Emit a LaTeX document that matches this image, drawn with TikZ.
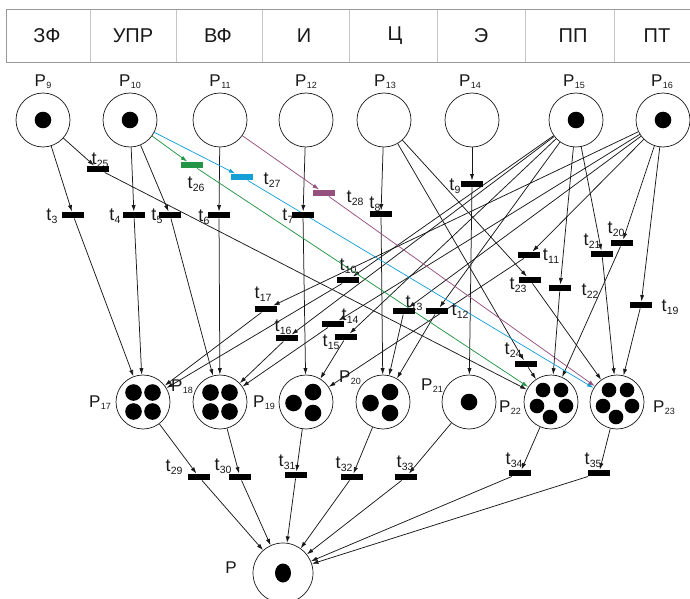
\documentclass[tikz,border=0pt]{standalone}
\usepackage{fontspec}
\setmainfont{Liberation Sans}
\usetikzlibrary{arrows.meta,calc}
\pgfdeclarelayer{bg}
\pgfsetlayers{bg,main}

\definecolor{cgreen}{RGB}{34,150,70}
\definecolor{cblue}{RGB}{20,160,215}
\definecolor{cmag}{RGB}{150,80,125}
\definecolor{ink}{RGB}{25,25,25}

% place and transition names with lowered indices
\newcommand\pname[1]{P\kern0.6pt\raisebox{-1.8pt}{\fontsize{9}{9}\selectfont #1}}
\newcommand\tname[1]{t\kern0.3pt\raisebox{-2.8pt}{\fontsize{10.5}{10.5}\selectfont #1}}

\begin{document}
\begin{tikzpicture}[x=1pt,y=-1pt,
  place/.style={circle, draw=ink, line width=0.7pt, minimum size=54pt, inner sep=0pt, fill=white},
  trans/.style={rectangle, fill=black, minimum width=22pt, minimum height=6.5pt, inner sep=0pt},
  tip/.style={-{Latex[length=6.5pt,width=4.2pt]}},
  arc/.style={draw=ink, line width=0.75pt, tip},
  plabel/.style={font=\fontsize{17}{17}\selectfont, text=ink, inner sep=0pt},
  tlabel/.style={font=\fontsize{18}{18}\selectfont, text=ink, inner sep=0pt},
  head/.style={font=\fontsize{20}{20}\selectfont, text=ink, inner sep=0pt},
  tok/.style={fill=black}
]
\useasboundingbox (0,0) rectangle (690,599);

% ---------- header row ----------
\draw[gray!45, line width=0.8pt] (90,9) -- (90,62) (176,9) -- (176,62) (262,9) -- (262,62)
  (349,9) -- (349,62) (437,9) -- (437,62) (525,9) -- (525,62) (614,9) -- (614,62);
\draw[gray!80, line width=0.9pt] (695,9) -- (6,9) -- (6,62) -- (695,62);
\node[head] (h1) at (47,36) {ЗФ};
\node[head] (h2) at (133,36) {УПР};
\node[head] (h3) at (218,36) {ВФ};
\node[head] (h4) at (304,36) {И};
\node[head] (h5) at (395,36) {Ц};
\node[head] (h6) at (481,36) {Э};
\node[head] (h7) at (573,36) {ПП};
\node[head] (h8) at (657,36) {ПТ};

% ---------- places ----------
\node[place] (P9)  at (43,120) {};
\node[place] (P10) at (130,120) {};
\node[place] (P11) at (220,120) {};
\node[place] (P12) at (306,120) {};
\node[place] (P13) at (384,120) {};
\node[place] (P14) at (472,120) {};
\node[place] (P15) at (576,120) {};
\node[place] (P16) at (663,120) {};

\node[place] (P17) at (143,402) {};
\node[place] (P18) at (220,402) {};
\node[place] (P19) at (306,402) {};
\node[place] (P20) at (383,402) {};
\node[place] (P21) at (469,402) {};
\node[place] (P22) at (551,402) {};
\node[place] (P23) at (617,402) {};

\node[place, minimum size=60pt] (P) at (283,573) {};

% ---------- place names ----------
\node[plabel] (lP9)  at (43,82)  {\pname{9}};
\node[plabel] (lP10) at (130,82) {\pname{10}};
\node[plabel] (lP11) at (220,82) {\pname{11}};
\node[plabel] (lP12) at (306,82) {\pname{12}};
\node[plabel] (lP13) at (385,82) {\pname{13}};
\node[plabel] (lP14) at (470,82) {\pname{14}};
\node[plabel] (lP15) at (574,82) {\pname{15}};
\node[plabel] (lP16) at (662,82) {\pname{16}};
\node[plabel] (lP17) at (100,403) {\pname{17}};
\node[plabel] (lP18) at (182,387) {\pname{18}};
\node[plabel] (lP19) at (264,403) {\pname{19}};
\node[plabel] (lP20) at (350,378) {\pname{20}};
\node[plabel] (lP21) at (432,386) {\pname{21}};
\node[plabel] (lP22) at (510,408) {\pname{22}};
\node[plabel] (lP23) at (664,408) {\pname{23}};
\node[plabel] (lP)   at (231,568) {P};

% ---------- tokens ----------
\fill[tok] (P9) circle (8.3pt);
\fill[tok] (P10) circle (8.3pt);
\fill[tok] (P15) circle (8.3pt);
\fill[tok] (P16) circle (8.3pt);
\foreach \pl in {P17,P18}
  \foreach \dx/\dy in {-9.5/-9.5, 9.5/-9.5, -9.5/9.5, 9.5/9.5}
    \fill[tok] ($(\pl)+(\dx,\dy)$) circle (8.3pt);
\foreach \pl in {P19,P20}
  \foreach \dx/\dy in {7/-10, -12.5/1, 7/11}
    \fill[tok] ($(\pl)+(\dx,\dy)$) circle (8.3pt);
\fill[tok] (P21) circle (8.3pt);
\foreach \pl in {P22,P23}
  \foreach \dx/\dy in {-8/-12, 10/-12, -14/4, 15/4, -1/15}
    \fill[tok] ($(\pl)+(\dx,\dy)$) circle (7.3pt);
\fill[tok] (P) ellipse (8pt and 9.5pt);

% ---------- transitions ----------
\node[trans] (t3)  at (73,215) {};
\node[trans] (t4)  at (134,215) {};
\node[trans] (t5)  at (170,215) {};
\node[trans] (t6)  at (219,215) {};
\node[trans] (t7)  at (303,215) {};
\node[trans] (t8)  at (381,214) {};
\node[trans] (t9)  at (472,184) {};
\node[trans] (t25) at (98,169) {};
\node[trans, fill=cgreen] (t26) at (192,165) {};
\node[trans, fill=cblue]  (t27) at (242,177) {};
\node[trans, fill=cmag]   (t28) at (324,193) {};
\node[trans] (t10) at (348,280) {};
\node[trans] (t11) at (529,255) {};
\node[trans] (t12) at (437,311) {};
\node[trans] (t13) at (404,311) {};
\node[trans] (t14) at (333,324) {};
\node[trans] (t15) at (346,337) {};
\node[trans] (t16) at (287,338) {};
\node[trans] (t17) at (266,309) {};
\node[trans] (t19) at (641,305) {};
\node[trans] (t20) at (622,243) {};
\node[trans] (t21) at (602,254) {};
\node[trans] (t22) at (560,288) {};
\node[trans] (t23) at (530,280) {};
\node[trans] (t24) at (526,364) {};
\node[trans] (t29) at (199,477) {};
\node[trans] (t30) at (240,477) {};
\node[trans] (t31) at (296,475) {};
\node[trans] (t32) at (352,477) {};
\node[trans] (t33) at (406,477) {};
\node[trans] (t34) at (520,473) {};
\node[trans] (t35) at (599,473) {};

% ---------- transition names ----------
\node[tlabel] (lt3)  at (52,216)  {\tname{3}};
\node[tlabel] (lt4)  at (115,216) {\tname{4}};
\node[tlabel] (lt5)  at (157,216) {\tname{5}};
\node[tlabel] (lt6)  at (204,217) {\tname{6}};
\node[tlabel] (lt7)  at (288,216) {\tname{7}};
\node[tlabel] (lt8)  at (375,204) {\tname{8}};
\node[tlabel] (lt9)  at (455,186) {\tname{9}};
\node[tlabel] (lt25) at (100,160) {\tname{25}};
\node[tlabel] (lt26) at (196,184) {\tname{26}};
\node[tlabel] (lt27) at (272,180) {\tname{27}};
\node[tlabel] (lt28) at (355,198) {\tname{28}};
\node[tlabel] (lt10) at (348,266) {\tname{10}};
\node[tlabel] (lt11) at (551,256) {\tname{11}};
\node[tlabel] (lt12) at (460,311) {\tname{12}};
\node[tlabel] (lt13) at (414,303) {\tname{13}};
\node[tlabel] (lt14) at (350,316) {\tname{14}};
\node[tlabel] (lt15) at (331,342) {\tname{15}};
\node[tlabel] (lt16) at (283,327) {\tname{16}};
\node[tlabel] (lt17) at (263,294) {\tname{17}};
\node[tlabel] (lt19) at (670,307) {\tname{19}};
\node[tlabel] (lt20) at (616,229) {\tname{20}};
\node[tlabel] (lt21) at (592,241) {\tname{21}};
\node[tlabel] (lt22) at (590,291) {\tname{22}};
\node[tlabel] (lt23) at (518,285) {\tname{23}};
\node[tlabel] (lt24) at (513,350) {\tname{24}};
\node[tlabel] (lt29) at (174,467) {\tname{29}};
\node[tlabel] (lt30) at (223,466) {\tname{30}};
\node[tlabel] (lt31) at (287,462) {\tname{31}};
\node[tlabel] (lt32) at (344,464) {\tname{32}};
\node[tlabel] (lt33) at (405,463) {\tname{33}};
\node[tlabel] (lt34) at (514,460) {\tname{34}};
\node[tlabel] (lt35) at (593,460) {\tname{35}};

% ---------- arcs ----------
\begin{pgfonlayer}{bg}
% upper places to transitions
\foreach \a/\b in {P9/t3, P9/t25, P10/t4, P10/t5, P11/t6, P12/t7, P13/t8, P13/t23, P13/t24, P14/t9,
    P15/t10, P15/t16, P15/t15, P15/t12, P15/t22, P15/t21,
    P16/t17, P16/t14, P16/t13, P16/t11, P16/t20, P16/t19}
  \draw[arc] (\a) -- (\b);
% transitions to the middle row
\foreach \a/\b in {t3/P17, t4/P17, t17/P17, t10/P17,
    t5/P18, t6/P18, t16/P18, t14/P18,
    t7/P19, t15/P19, t11/P19,
    t8/P20, t13/P20, t12/P20,
    t9/P21,
    t25/P22, t24/P22, t22/P22, t20/P22,
    t23/P23, t21/P23, t19/P23}
  \draw[arc] (\a) -- (\b);
% coloured chains
\draw[arc, draw=cgreen, -{Latex[length=6.5pt,width=4.2pt,color=cgreen]}] (P10) -- (t26);
\draw[arc, draw=cgreen, -{Latex[length=6.5pt,width=4.2pt,color=cgreen]}] (t26) -- (P22);
\draw[arc, draw=cblue, -{Latex[length=6.5pt,width=4.2pt,color=cblue]}] (P10) -- (t27);
\draw[arc, draw=cblue, -{Latex[length=6.5pt,width=4.2pt,color=cblue]}] (t27) -- (P23);
\draw[arc, draw=cmag, -{Latex[length=6.5pt,width=4.2pt,color=cmag]}] (P11) -- (t28);
\draw[arc, draw=cmag, -{Latex[length=6.5pt,width=4.2pt,color=cmag]}] (t28) -- (P23);
% middle row to the final place
\foreach \a/\b in {P17/t29, P18/t30, P19/t31, P20/t32, P21/t33, P22/t34, P23/t35,
    t29/P, t30/P, t31/P, t32/P, t33/P, t34/P, t35/P}
  \draw[arc] (\a) -- (\b);
\end{pgfonlayer}
\end{tikzpicture}
\end{document}
